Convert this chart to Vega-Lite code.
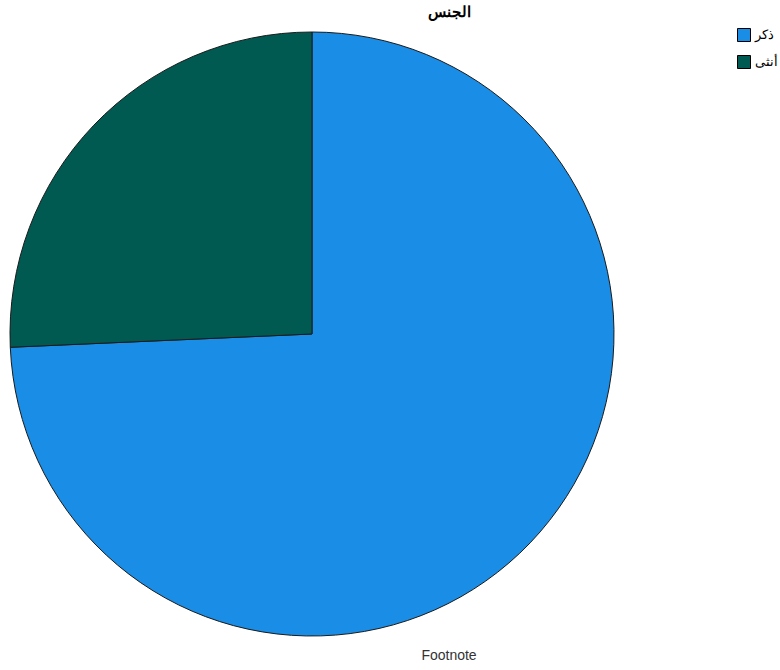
{
  "$schema": "https://vega.github.io/schema/vega-lite/v6.json",
  "autosize": {"type": "none"},
  "width": 624,
  "height": 612,
  "padding": {"top": 28, "left": 0, "right": 156, "bottom": 30},
  "background": "white",
  "title": {
    "text": "الجنس",
    "subtitle": "Footnote",
    "orient": "bottom",
    "anchor": "middle",
    "dx": 137,
    "font": "Liberation Sans",
    "fontSize": 15,
    "fontWeight": "bold",
    "color": "#000000",
    "subtitleFont": "Liberation Sans",
    "subtitleFontSize": 14,
    "subtitleColor": "#333333",
    "subtitlePadding": 629,
    "offset": -635
  },
  "data": {
    "values": [
      {"sex": "ذكر", "pct": 74.3, "o": 1},
      {"sex": "أنثى", "pct": 25.7, "o": 2}
    ]
  },
  "mark": {"type": "arc", "outerRadius": 302, "stroke": "#1a1a1a", "strokeWidth": 1},
  "encoding": {
    "theta": {"field": "pct", "type": "quantitative", "stack": true},
    "order": {"field": "o", "type": "quantitative"},
    "color": {
      "field": "sex",
      "type": "nominal",
      "scale": {"domain": ["ذكر", "أنثى"], "range": ["#1a8ee6", "#005a52"]},
      "legend": {
        "title": null,
        "orient": "right",
        "offset": 113,
        "symbolType": "square",
        "symbolSize": 169,
        "symbolStrokeColor": "#000000",
        "symbolStrokeWidth": 1,
        "symbolOpacity": 1,
        "labelFont": "Liberation Sans",
        "labelFontSize": 13,
        "labelColor": "#000000",
        "rowPadding": 9,
        "padding": 0
      }
    }
  }
}
